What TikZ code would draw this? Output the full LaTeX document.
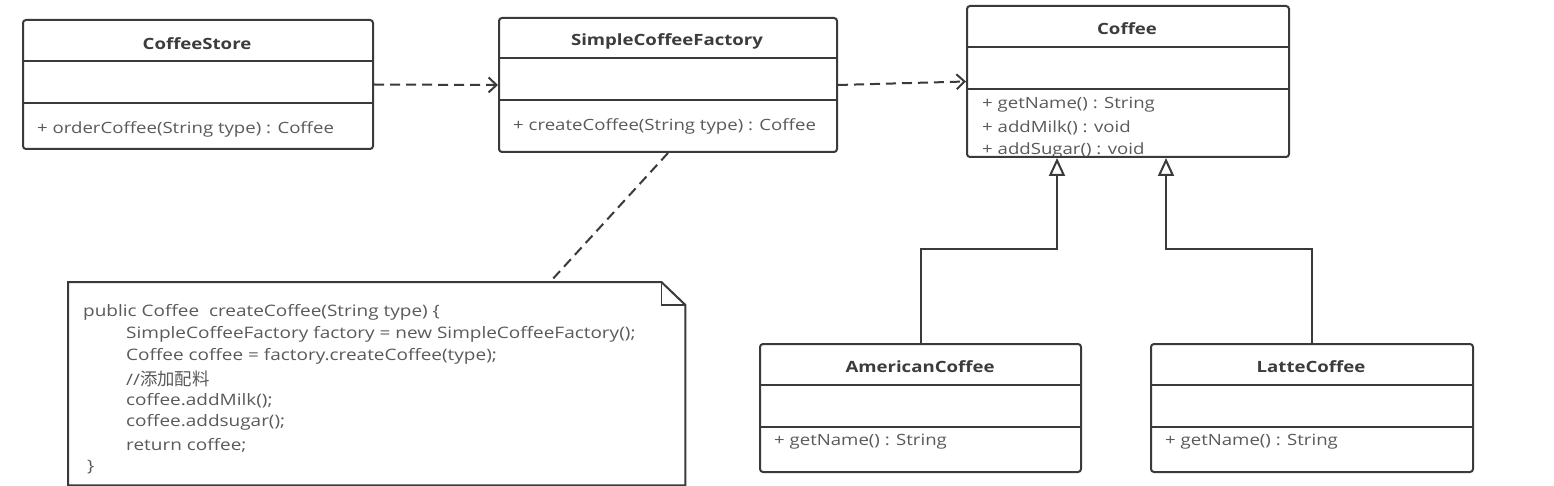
\documentclass[tikz,border=0pt]{standalone}
\usepackage{fontspec}
\setmainfont{Open Sans}[FakeStretch=1.2]
\newfontfamily\cjk{Noto Sans CJK SC}[Scale=1.1]
\usetikzlibrary{arrows.meta}
\definecolor{ln}{HTML}{3A3A3A}
\definecolor{tx}{HTML}{5A5A5A}
\definecolor{tt}{HTML}{3C3C3C}
\begin{document}
\begin{tikzpicture}[x=1pt,y=-1pt,
 cls/.style={draw=ln, line width=2pt, rounded corners=3pt, inner sep=0pt, anchor=north west},
 title/.style={font=\fontsize{15.5}{18}\selectfont\bfseries, text=tt, anchor=center, inner sep=0pt},
 meth/.style={font=\fontsize{15.5}{18}\selectfont, text=tx, anchor=west, inner sep=0pt},
 code/.style={font=\fontsize{15.8}{22}\selectfont, text=tx, anchor=west, inner sep=0pt},
 sep/.style={draw=ln, line width=2pt},
 dep/.style={draw=ln, line width=2pt, dash pattern=on 10pt off 6pt, -{Straight Barb[length=8pt,width=15pt]}},
 notelink/.style={draw=ln, line width=2pt, dash pattern=on 10pt off 6pt},
 gen/.style={draw=ln, line width=2pt, -{Triangle[open, length=18pt, width=16pt, fill=white]}},
 ]
\useasboundingbox[fill=white] (0,0) rectangle (1554,486);

% texts
\node[title] (storeT) at (197,44) {CoffeeStore};
\node[meth] (storeM) at (37,129.5) {+ orderCoffee(String type) : Coffee};
\node[title] (factT) at (667,41) {SimpleCoffeeFactory};
\node[meth] (factM) at (513,126.5) {+ createCoffee(String type) : Coffee};
\node[title] (coffT) at (1127,29) {Coffee};
\node[meth] (coffM1) at (982,104.5) {+ getName() : String};
\node[meth] (coffM2) at (982,127.5) {+ addMilk() : void};
\node[meth] (coffM3) at (982,150.5) {+ addSugar() : void};
\node[title] (amT) at (920,367) {AmericanCoffee};
\node[meth] (amM) at (774,441.5) {+ getName() : String};
\node[title] (laT) at (1311,367) {LatteCoffee};
\node[meth] (laM) at (1165,441.5) {+ getName() : String};

% class boxes
\node[cls, minimum width=350pt, minimum height=129pt] (store) at (22,19) {};
\node[cls, minimum width=338pt, minimum height=134pt] (factory) at (498,17) {};
\node[cls, minimum width=322pt, minimum height=151pt] (coffee) at (966,5) {};
\node[cls, minimum width=321pt, minimum height=128pt] (american) at (759,343) {};
\node[cls, minimum width=322pt, minimum height=128pt] (latte) at (1150,343) {};

% compartments
\draw[sep] (store.west |- 0,61) -- (store.east |- 0,61);
\draw[sep] (store.west |- 0,103) -- (store.east |- 0,103);
\draw[sep] (factory.west |- 0,58) -- (factory.east |- 0,58);
\draw[sep] (factory.west |- 0,100) -- (factory.east |- 0,100);
\draw[sep] (coffee.west |- 0,47) -- (coffee.east |- 0,47);
\draw[sep] (coffee.west |- 0,89) -- (coffee.east |- 0,89);
\draw[sep] (american.west |- 0,385) -- (american.east |- 0,385);
\draw[sep] (american.west |- 0,427) -- (american.east |- 0,427);
\draw[sep] (latte.west |- 0,385) -- (latte.east |- 0,385);
\draw[sep] (latte.west |- 0,427) -- (latte.east |- 0,427);

% note
\node[inner sep=0pt, minimum width=617pt, minimum height=203pt, anchor=north west] (note) at (68,282) {};
\draw[sep, line join=miter] (note.north west) -- ([xshift=-24pt]note.north east) -- ([yshift=-23pt]note.north east) -- (note.south east) -- (note.south west) -- cycle;
\draw[draw=ln, line width=1.6pt] ([xshift=-24pt]note.north east) -- ([xshift=-24pt,yshift=-23pt]note.north east) -- ([yshift=-23pt]note.north east);
\node[code] (c1) at (83,312.5) {public Coffee\ \ createCoffee(String type) \{};
\node[code] (c2) at (126,334.5) {SimpleCoffeeFactory factory = new SimpleCoffeeFactory();};
\node[code] (c3) at (126,356.5) {Coffee coffee = factory.createCoffee(type);};
\node[code] (c4) at (126,378.5) {//{\cjk 添加配料}};
\node[code] (c5) at (126,400.5) {coffee.addMilk();};
\node[code] (c6) at (126,422.5) {coffee.addsugar();};
\node[code] (c7) at (126,445.5) {return coffee;};
\node[code] (c8) at (87,467.5) {\}};

% connectors
\coordinate (nB) at (550,282);
\draw[notelink] (factory.south) -- (nB);
\draw[dep] (store.east) -- (factory.west);
\draw[dep] (factory.east) -- (coffee.west);
\coordinate (j1) at (1057,249);
\coordinate (j2) at (1166,249);
\draw[gen] (american.north) |- (j1) -- (j1 |- coffee.south);
\draw[gen] (latte.north) |- (j2) -- (j2 |- coffee.south);
\end{tikzpicture}
\end{document}
